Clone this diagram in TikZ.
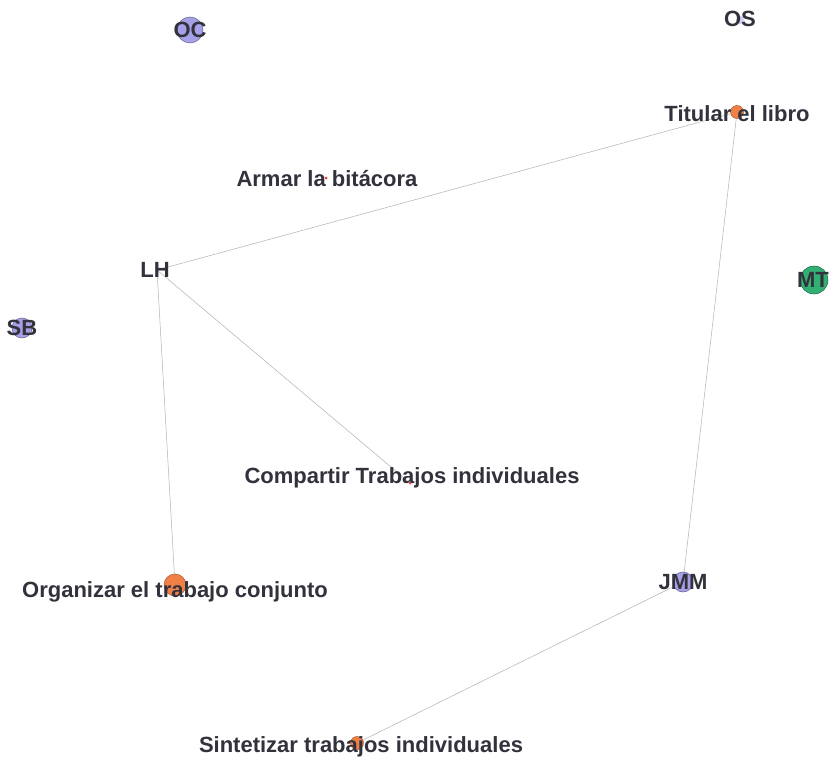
\documentclass[tikz,border=0pt]{standalone}
\usepackage{fontspec}
\setmainfont{Liberation Sans}
\definecolor{lavanda}{RGB}{165,160,232}
\definecolor{naranja}{RGB}{240,128,70}
\definecolor{verde}{RGB}{50,175,115}
\definecolor{texto}{RGB}{50,50,60}
\tikzset{
  actor/.style={circle,draw=lavanda!60!black,fill=lavanda,line width=0.5pt,inner sep=0pt},
  tarea/.style={circle,draw=naranja!70!black,fill=naranja,line width=0.5pt,inner sep=0pt},
  rotulo/.style={font=\bfseries\fontsize{22}{22}\selectfont,text=texto},
  enlace/.style={draw=gray!60,line width=0.5pt}
}
\begin{document}
\begin{tikzpicture}[x=1pt,y=-1pt]
\useasboundingbox[fill=white] (0,0) rectangle (831,760);

% nodos
\node[actor,minimum size=26pt] (oc) at (190,30) {};
\node[actor,draw=none,fill=lavanda!50,minimum size=8pt] (os) at (740,20) {};
\node[tarea,minimum size=13pt] (titular) at (737,112) {};
\node[tarea,draw=none,fill=red!80,minimum size=3pt] (armar) at (326,178) {};
\node[actor,draw=none,fill=lavanda!40,minimum size=4pt] (lh) at (157,270) {};
\node[circle,draw=verde!60!black,fill=verde,line width=0.5pt,minimum size=28pt,inner sep=0pt] (mt) at (814,280) {};
\node[actor,minimum size=20pt] (sb) at (22,328) {};
\node[tarea,draw=none,fill=red!80,minimum size=3pt] (compartir) at (410,483) {};
\node[tarea,minimum size=22pt] (organizar) at (175,585) {};
\node[actor,minimum size=20pt] (jmm) at (683,582) {};
\node[tarea,minimum size=13pt] (sintetizar) at (357,743) {};

% enlaces
\draw[enlace] (lh) -- (titular);
\draw[enlace] (titular) -- (jmm);
\draw[enlace] (lh) -- (compartir);
\draw[enlace] (lh) -- (organizar);
\draw[enlace] (jmm) -- (sintetizar);

% rotulos
\node[rotulo] at (oc) {OC};
\node[rotulo] at (740,19) {OS};
\node[rotulo] at (737,114) {Titular el libro};
\node[rotulo] at (327,179) {Armar la bitácora};
\node[rotulo] at (155,270) {LH};
\node[rotulo] at (813,280) {MT};
\node[rotulo] at (sb) {SB};
\node[rotulo] at (412,478) {Compartir Trabajos individuales};
\node[rotulo] at (175,592) {Organizar el trabajo conjunto};
\node[rotulo] at (jmm) {JMM};
\node[rotulo] at (361,747) {Sintetizar trabajos individuales};
\end{tikzpicture}
\end{document}
